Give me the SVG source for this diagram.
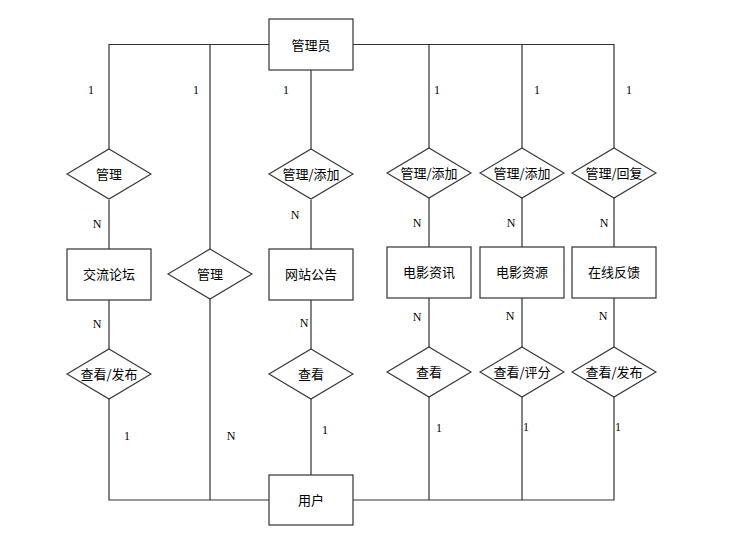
<svg xmlns="http://www.w3.org/2000/svg" width="733" height="552" viewBox="0 0 733 552">
<style>
.box{fill:#fff;stroke:#333;stroke-width:1.2}
.dia{fill:#fff;stroke:#333;stroke-width:1.1}
.ln{fill:none;stroke:#333;stroke-width:1.2}
.t{font-family:"Noto Sans CJK SC","Noto Sans",sans-serif;font-size:13px;fill:#000;text-anchor:middle}
.c{font-family:"Liberation Serif",serif;font-size:12px;fill:#000;text-anchor:middle}
</style>
<rect width="733" height="552" fill="#fff"/>
<g id="connectors">
<path class="ln" d="M109,150 V44.5 H614 V148"/>
<path class="ln" d="M210,44.5 V249 M210,299 V500"/>
<path class="ln" d="M311,70 V150 M311,200 V249 M311,300 V349 M311,399 V475"/>
<path class="ln" d="M429,44.5 V148 M429,198 V247 M429,298 V347 M429,397 V500"/>
<path class="ln" d="M522,44.5 V148 M522,198 V247 M522,298 V347 M522,397 V500"/>
<path class="ln" d="M614,198 V247 M614,298 V347 M614,397 V500 H353 M269,500 H109 V399"/>
<path class="ln" d="M109,200 V249 M109,300 V349"/>
</g>
<g id="labels">
<text class="c" x="91" y="94">1</text>
<text class="c" x="196" y="94">1</text>
<text class="c" x="286" y="94">1</text>
<text class="c" x="437" y="94">1</text>
<text class="c" x="537" y="94">1</text>
<text class="c" x="629" y="94">1</text>
<text class="c" x="97" y="228">N</text>
<text class="c" x="295" y="219">N</text>
<text class="c" x="417" y="227">N</text>
<text class="c" x="511" y="227">N</text>
<text class="c" x="604" y="227">N</text>
<text class="c" x="97" y="328">N</text>
<text class="c" x="304" y="327">N</text>
<text class="c" x="417" y="321">N</text>
<text class="c" x="510" y="320">N</text>
<text class="c" x="603" y="320">N</text>
<text class="c" x="127" y="440">1</text>
<text class="c" x="231" y="440">N</text>
<text class="c" x="325" y="434">1</text>
<text class="c" x="439" y="432">1</text>
<text class="c" x="526" y="431">1</text>
<text class="c" x="618" y="431">1</text>
</g>
<g id="admin"><rect class="box" x="269" y="19" width="84" height="51"/><text class="t" x="311" y="49.5">管理员</text></g>
<g id="user"><rect class="box" x="269" y="475" width="84" height="50"/><text class="t" x="311" y="505">用户</text></g>
<g id="rel-manage-forum"><polygon class="dia" points="109,149 151,174 109,199 67,174"/><text class="t" x="109" y="179">管理</text></g>
<g id="rel-manage-user"><polygon class="dia" points="210,249 252,274 210,299 168,274"/><text class="t" x="210" y="279">管理</text></g>
<g id="rel-add-notice"><polygon class="dia" points="311,149 353,174 311,199 269,174"/><text class="t" x="311" y="179">管理/添加</text></g>
<g id="rel-add-news"><polygon class="dia" points="429,148 471,173 429,198 387,173"/><text class="t" x="429" y="178">管理/添加</text></g>
<g id="rel-add-res"><polygon class="dia" points="522,148 564,173 522,198 480,173"/><text class="t" x="522" y="178">管理/添加</text></g>
<g id="rel-reply"><polygon class="dia" points="614,148 656,173 614,198 572,173"/><text class="t" x="614" y="178">管理/回复</text></g>
<g id="forum"><rect class="box" x="67" y="249" width="84" height="51"/><text class="t" x="109" y="279">交流论坛</text></g>
<g id="notice"><rect class="box" x="269" y="249" width="84" height="51"/><text class="t" x="311" y="279">网站公告</text></g>
<g id="news"><rect class="box" x="387" y="247" width="84" height="51"/><text class="t" x="429" y="277">电影资讯</text></g>
<g id="resource"><rect class="box" x="480" y="247" width="84" height="51"/><text class="t" x="522" y="277">电影资源</text></g>
<g id="feedback"><rect class="box" x="572" y="247" width="84" height="51"/><text class="t" x="614" y="277">在线反馈</text></g>
<g id="rel-view-forum"><polygon class="dia" points="109,349 151,374 109,399 67,374"/><text class="t" x="109" y="379">查看/发布</text></g>
<g id="rel-view-notice"><polygon class="dia" points="311,349 353,374 311,399 269,374"/><text class="t" x="311" y="379">查看</text></g>
<g id="rel-view-news"><polygon class="dia" points="429,347 471,372 429,397 387,372"/><text class="t" x="429" y="377">查看</text></g>
<g id="rel-rate"><polygon class="dia" points="522,347 564,372 522,397 480,372"/><text class="t" x="522" y="377">查看/评分</text></g>
<g id="rel-post-feedback"><polygon class="dia" points="614,347 656,372 614,397 572,372"/><text class="t" x="614" y="377">查看/发布</text></g>
</svg>
